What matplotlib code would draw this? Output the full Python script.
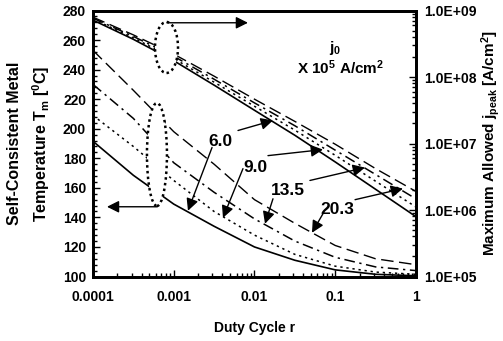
import matplotlib
matplotlib.use("Agg")
import matplotlib.pyplot as plt
from matplotlib.patches import Ellipse
from matplotlib.ticker import FuncFormatter, MultipleLocator, LogLocator, NullFormatter

plt.rcParams['font.family'] = ['Liberation Sans', 'DejaVu Sans']
plt.rcParams['font.weight'] = 'bold'
plt.rcParams['mathtext.fontset'] = 'custom'
plt.rcParams['mathtext.rm'] = 'Liberation Sans:bold'
plt.rcParams['mathtext.it'] = 'Liberation Sans:bold'
plt.rcParams['mathtext.bf'] = 'Liberation Sans:bold'

# ---- data ----
duty = [1e-4, 3.16e-4, 1e-3, 3.16e-3, 1e-2, 3.16e-2, 1e-1, 3.16e-1, 1.0]
j0_labels = ['6.0', '9.0', '13.5', '20.3']

# self-consistent metal temperature (left axis, degC)
temp_6_0 = [191.5, 168.5, 149, 134, 120, 111, 104.5, 101.5, 100.5]
temp_9_0 = [209, 188, 165, 144, 128, 115, 107, 103, 101.5]
temp_13_5 = [230, 207, 177, 157, 139, 124, 113, 106.5, 104]
temp_20_3 = [253, 226, 198, 176, 152, 136, 121, 112, 108]

# maximum allowed j_peak (right axis, A/cm^2)
jpk_6_0 = [7.17e8, 3.69e8, 1.76e8, 7.55e7, 3.16e7, 1.33e7, 5.28e6, 2.05e6, 7.94e5]
jpk_9_0 = [7.43e8, 3.88e8, 1.90e8, 8.36e7, 3.63e7, 1.59e7, 6.64e6, 2.71e6, 1.11e6]
jpk_13_5 = [7.66e8, 4.08e8, 2.05e8, 9.26e7, 4.08e7, 1.85e7, 7.94e6, 3.42e6, 1.47e6]
jpk_20_3 = [7.94e8, 4.30e8, 2.21e8, 1.03e8, 4.64e7, 2.15e7, 9.75e6, 4.19e6, 1.90e6]

temps = [temp_6_0, temp_9_0, temp_13_5, temp_20_3]
jpks = [jpk_6_0, jpk_9_0, jpk_13_5, jpk_20_3]
styles = ['-', (0, (1.5, 2.5)), (0, (7, 3, 1.5, 3)), (0, (9, 4))]
widths = [1.2, 1.1, 1.1, 1.0]

fig = plt.figure(figsize=(5.03, 3.41), dpi=100)
ax = fig.add_axes([0.1849, 0.1891, 0.6421, 0.7801])
ax2 = ax.twinx()

for t, ls, lw in zip(temps, styles, widths):
    ax.plot(duty, t, color='black', linestyle=ls, linewidth=lw)
for j, ls, lw in zip(jpks, styles, widths):
    ax2.plot(duty, j, color='black', linestyle=ls, linewidth=lw)

ax.set_xscale('log')
ax.set_xlim(1e-4, 1)
ax.set_ylim(100, 280)
ax2.set_yscale('log')
ax2.set_ylim(1e5, 1e9)

ax.xaxis.set_major_formatter(FuncFormatter(lambda v, p: f"{v:g}"))
ax.xaxis.set_minor_formatter(NullFormatter())
ax.yaxis.set_major_locator(MultipleLocator(20))
ax.yaxis.set_minor_locator(MultipleLocator(4))
ax2.yaxis.set_major_locator(LogLocator(base=10, numticks=10))
ax2.yaxis.set_minor_locator(LogLocator(base=10, subs=range(2, 10), numticks=50))
ax2.yaxis.set_major_formatter(FuncFormatter(lambda v, p: f"{v:.1E}"))
ax2.yaxis.set_minor_formatter(NullFormatter())

ax.tick_params(axis='x', which='both', direction='in', top=False, labelsize=10, pad=10)
ax.tick_params(axis='x', which='major', length=5, width=1)
ax.tick_params(axis='x', which='minor', length=3, width=1)
ax.tick_params(axis='y', which='both', direction='in', right=False, labelsize=10, pad=5)
ax.tick_params(axis='y', which='major', length=5, width=1)
ax.tick_params(axis='y', which='minor', length=3, width=1)
ax2.tick_params(axis='y', which='both', direction='in', labelsize=10, pad=6)
ax2.tick_params(axis='y', which='major', length=5, width=1)
ax2.tick_params(axis='y', which='minor', length=3, width=1)
for a in (ax, ax2):
    for s in a.spines.values():
        s.set_linewidth(2)

ax.set_xlabel('Duty Cycle r', fontsize=10, fontweight='bold', labelpad=12)
ax.set_ylabel('Self-Consistent Metal\nTemperature T$_{m}$ [$^{0}$C]', fontsize=11.5,
              fontweight='bold', labelpad=8, linespacing=1.5)
ax2.set_ylabel('Maximum Allowed j$_{peak}$ [A/cm$^{2}$]', fontsize=11,
               fontweight='bold', labelpad=2)

# ellipses grouping the curves
for cx, cy, w, h in [(0.2276, 0.861, 0.0712, 0.1917), (0.198, 0.4586, 0.0619, 0.387)]:
    ax2.add_patch(Ellipse((cx, cy), w, h, transform=ax2.transAxes, facecolor='white',
                          edgecolor='black', linestyle=(0, (1, 1.3)), linewidth=1.8, zorder=5))

ap = dict(arrowstyle='-|>', color='black', lw=1.0, mutation_scale=18, shrinkA=0, shrinkB=0)
# axis-pointer arrows
ax2.annotate('', xy=(8.3e-3, 271.7), xytext=(8.24e-4, 271.7), xycoords=ax.transData,
             textcoords=ax.transData, arrowprops=ap, zorder=6)
ax2.annotate('', xy=(1.49e-4, 147.2), xytext=(6.2e-4, 147.2), xycoords=ax.transData,
             textcoords=ax.transData, arrowprops=ap, zorder=6)

# labels with arrows: (label pos, [(from, to), ...])
label_pos = [(3.74e-3, 191.4), (1.014e-2, 173.7), (2.6e-2, 158.1), (0.1052, 145.2)]
arrows = [
    [((2.98e-3, 187.3), (1.5e-3, 144.5)), ((6.25e-3, 198.8), (1.694e-2, 205.6))],
    [((7.2e-3, 173.0), (4.07e-3, 139.7)), ((1.469e-2, 181.8), (7.05e-2, 185.9))],
    [((1.694e-2, 152.6), (1.349e-2, 135.7)), ((4.86e-2, 165.0), (0.2333, 173.7))],
    [((7.05e-2, 142.5), (5.15e-2, 129.6)), ((0.176, 152.0), (0.69, 159.5))],
]
for lab, pos, arrs in zip(j0_labels, label_pos, arrows):
    ax2.text(pos[0], pos[1], lab, transform=ax.transData, ha='center', va='center',
             fontsize=12.5, fontweight='bold', zorder=7)
    for (x0, y0), (x1, y1) in arrs:
        ax2.annotate('', xy=(x1, y1), xytext=(x0, y0), xycoords=ax.transData,
                     textcoords=ax.transData, arrowprops=ap, zorder=6)

ax2.text(0.75, 0.86, r'j$_0$', transform=ax2.transAxes, ha='center', va='center',
         fontsize=11, fontweight='bold')
ax2.text(0.765, 0.785, r'X 10$^{5}$ A/cm$^{2}$', transform=ax2.transAxes, ha='center',
         va='center', fontsize=11, fontweight='bold')

fig.savefig('out.png', dpi=100)
